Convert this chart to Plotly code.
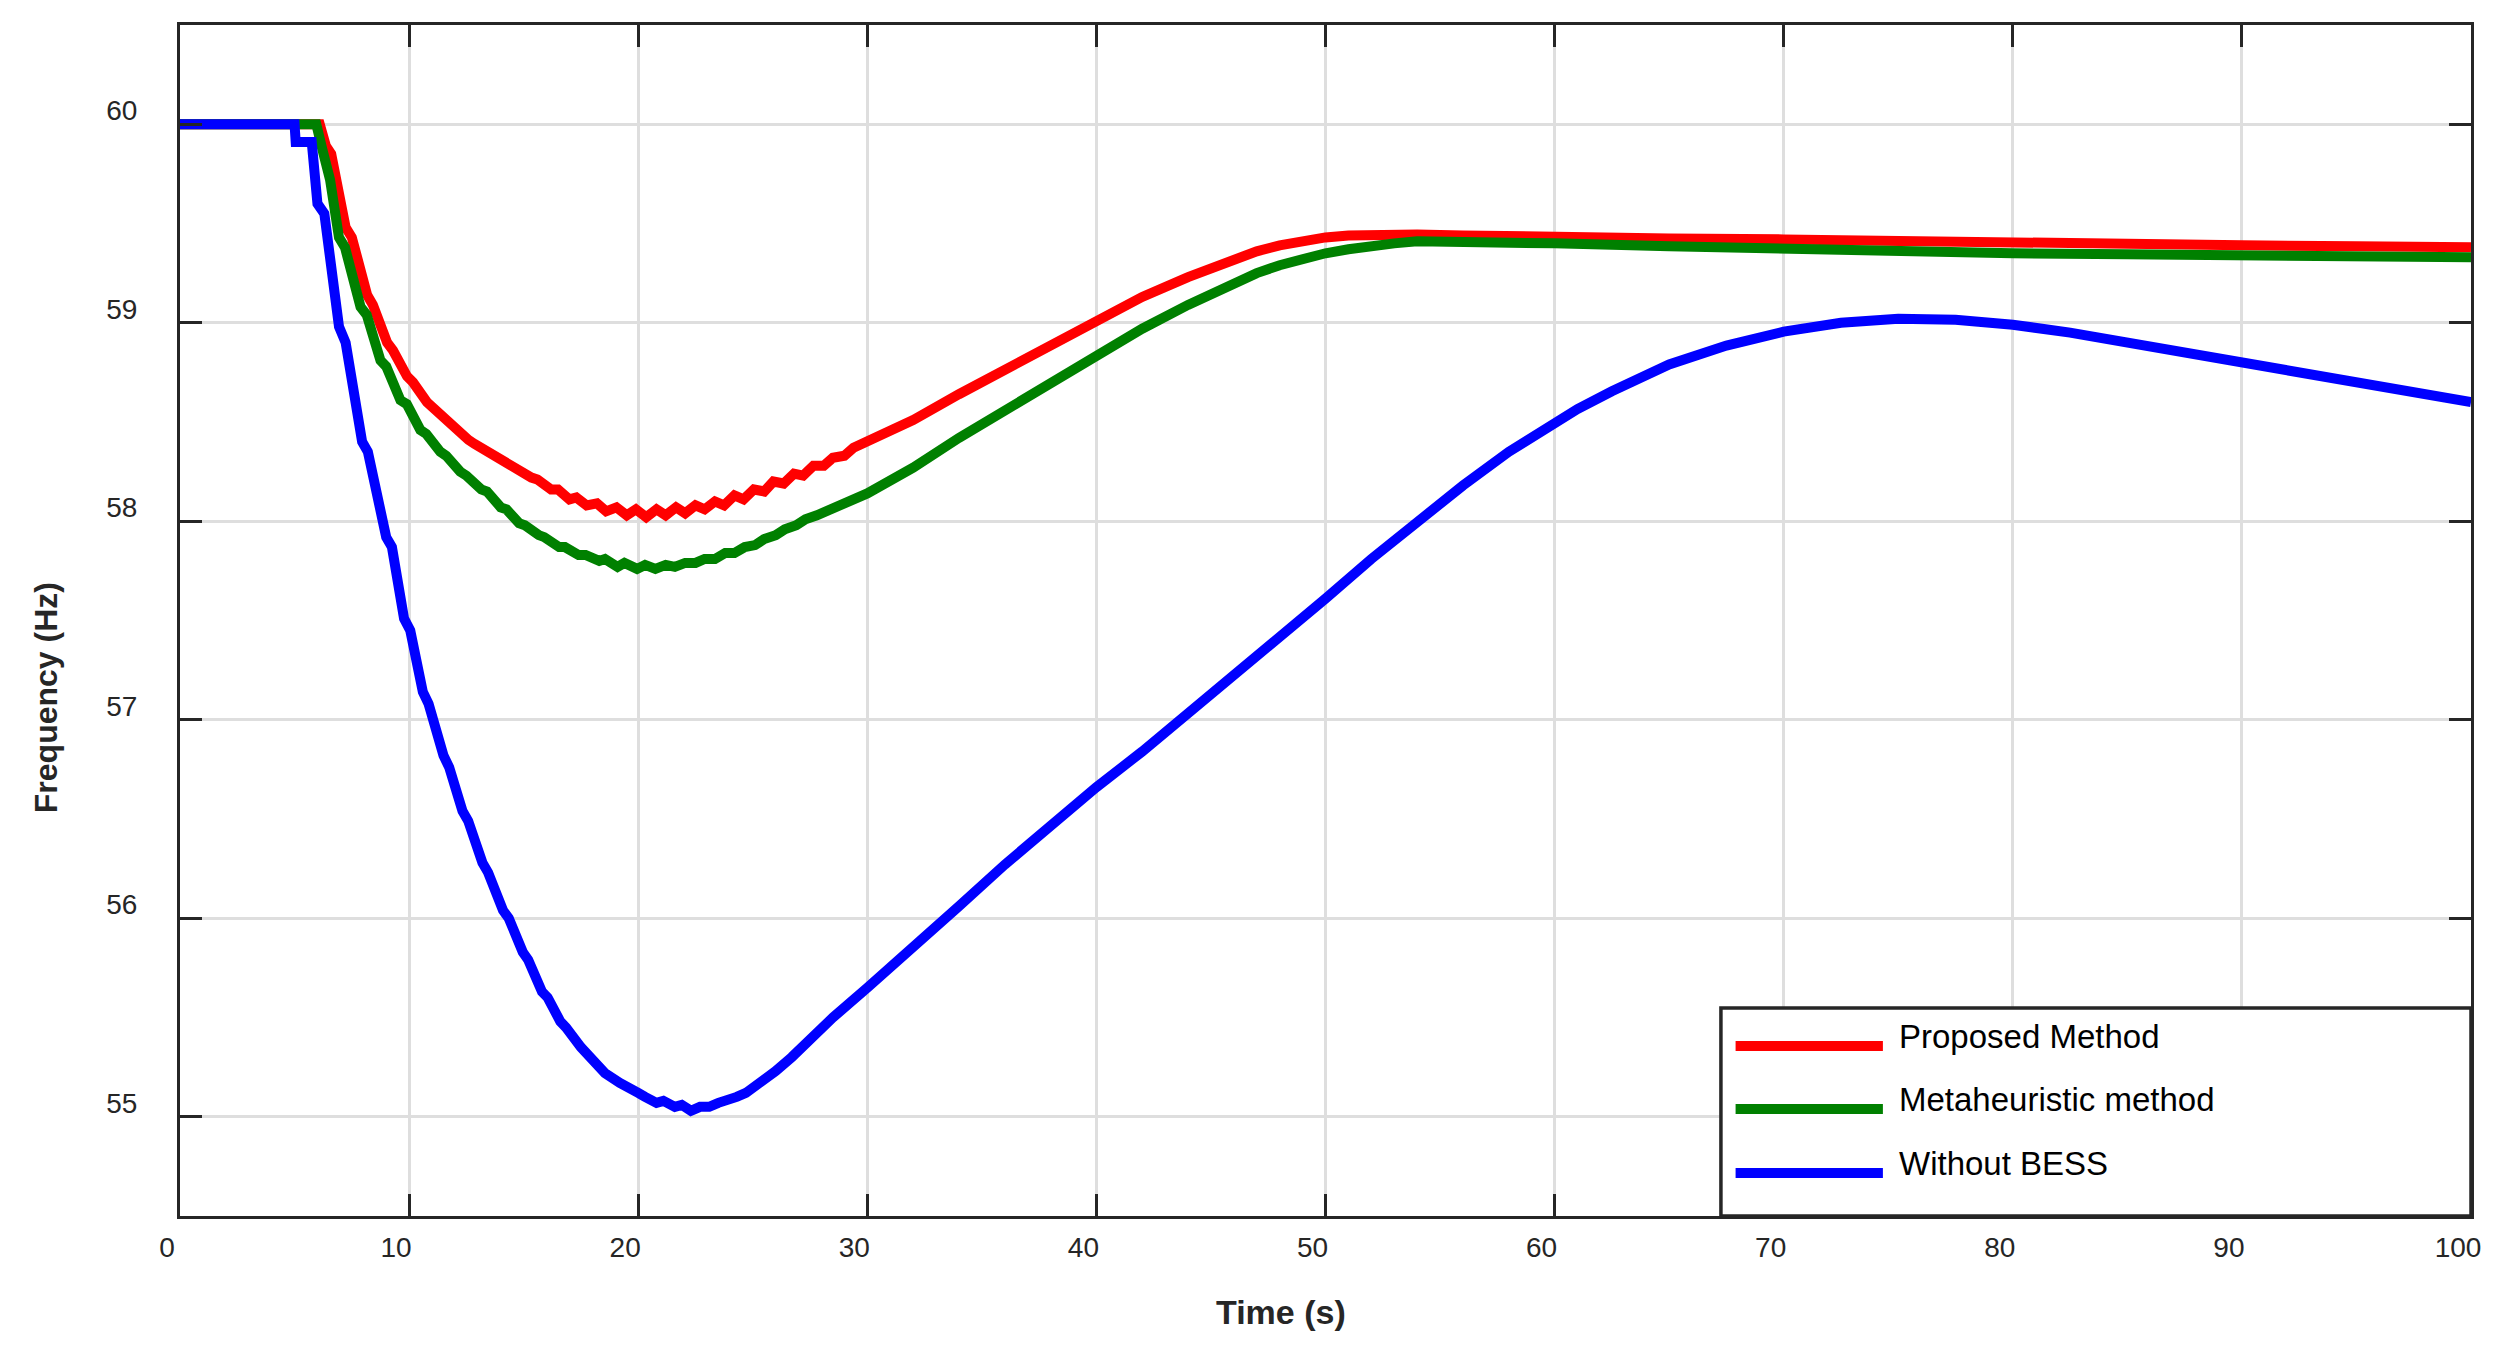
import plotly.graph_objects as go

### 데이터
series_names = ["Proposed Method", "Metaheuristic method", "Without BESS"]
series_colors = ["#FF0000", "#008000", "#0000FF"]

t_proposed = [0, 6.1, 6.37, 6.6, 7.23, 7.5, 8.17, 8.42, 9.04, 9.3, 9.91, 10.17, 10.78, 11.05,
              11.72, 11.97, 12.59, 12.85, 13.53, 13.78, 14.47, 14.72, 15.34, 15.6, 16.2, 16.5,
              17.0, 17.3, 17.75, 18.2, 18.6, 19.05, 19.5, 19.9, 20.35, 20.8, 21.2, 21.65, 22.05,
              22.5, 22.9, 23.35, 23.75, 24.2, 24.6, 25.05, 25.5, 25.9, 26.35, 26.8, 27.2, 27.65,
              28.1, 28.5, 29.0, 29.4, 30, 32, 34, 36, 38, 40, 42, 44, 46, 47, 48, 49, 50, 51, 52,
              54, 56, 60, 65, 70, 75, 80, 85, 90, 95, 100]
f_proposed = [60, 60, 59.89, 59.85, 59.48, 59.43, 59.14, 59.09, 58.90, 58.86, 58.73, 58.70, 58.60, 58.57,
              58.50, 58.47, 58.41, 58.39, 58.34, 58.32, 58.27, 58.26, 58.22, 58.21, 58.16, 58.16,
              58.11, 58.12, 58.08, 58.09, 58.05, 58.07, 58.03, 58.06, 58.02, 58.06, 58.03, 58.07, 58.04,
              58.08, 58.06, 58.10, 58.08, 58.13, 58.11, 58.16, 58.15, 58.20, 58.19, 58.24, 58.23, 58.28,
              58.28, 58.32, 58.33, 58.37, 58.40, 58.51, 58.64, 58.76, 58.89, 59.01, 59.13, 59.23, 59.32,
              59.36, 59.39, 59.415, 59.43, 59.44, 59.445, 59.445, 59.44, 59.43, 59.425, 59.42, 59.41,
              59.40, 59.395, 59.39, 59.385, 59.38]

t_meta = [0, 5.95, 6.2, 6.55, 6.94, 7.2, 7.88, 8.15, 8.75, 9.0, 9.62, 9.9, 10.49, 10.75, 11.36,
          11.62, 12.23, 12.5, 13.15, 13.4, 14.0, 14.25, 14.8, 15.05, 15.66, 15.9, 16.55, 16.8,
          17.4, 17.7, 18.3, 18.55, 19.1, 19.4, 19.95, 20.3, 20.75, 21.2, 21.6, 22.05, 22.5, 22.9,
          23.35, 23.8, 24.2, 24.65, 25.1, 25.5, 26.0, 26.4, 26.9, 27.3, 27.8, 28.3, 29, 30, 32,
          34, 36, 38, 40, 42, 44, 46, 47, 48, 49, 50, 51, 52, 53, 54, 56, 58, 60, 65, 70, 75, 80,
          85, 90, 95, 100]
f_meta = [60, 60, 59.88, 59.72, 59.43, 59.38, 59.08, 59.04, 58.81, 58.78, 58.61, 58.59, 58.46, 58.44, 58.35,
          58.33, 58.25, 58.23, 58.16, 58.15, 58.07, 58.06, 57.99, 57.98, 57.93, 57.92, 57.87, 57.87,
          57.83, 57.83, 57.80, 57.81, 57.77, 57.79, 57.76, 57.78, 57.76, 57.78, 57.77, 57.79, 57.79, 57.81,
          57.81, 57.84, 57.84, 57.87, 57.88, 57.91, 57.93, 57.96, 57.98, 58.01, 58.03, 58.06, 58.09, 58.14, 58.27,
          58.42, 58.56, 58.70, 58.84, 58.97, 59.09, 59.20, 59.25, 59.29, 59.325, 59.35, 59.37, 59.39, 59.40,
          59.41, 59.41, 59.405, 59.40, 59.385, 59.37, 59.36, 59.35, 59.345, 59.34, 59.335, 59.33]

t_nobess = [0, 5.0, 5.05, 5.75, 6.0, 6.3, 6.94, 7.23, 7.95, 8.2, 9.0, 9.25, 9.78, 10.05, 10.6, 10.85,
            11.5, 11.75, 12.33, 12.58, 13.2, 13.45, 14.1, 14.35, 14.96, 15.2, 15.8, 16.05, 16.6, 16.85,
            17.5, 17.75, 18.3, 18.55, 19.2, 19.45, 20.0, 20.3, 20.8, 21.1, 21.6, 21.9, 22.3, 22.7, 23.1,
            23.5, 23.9, 24.3, 24.7, 25.1, 25.5, 26.0, 26.7, 27.5, 28.5, 30, 32, 34, 36, 38, 40, 42, 44,
            46, 48, 50, 52, 54, 56, 58, 60, 61, 62.5, 65, 67.5, 70, 72.5, 75, 77.5, 80, 82.5, 85, 87.5,
            90, 92.5, 95, 97.5, 100]
f_nobess = [60, 60, 59.91, 59.91, 59.60, 59.55, 58.98, 58.90, 58.40, 58.35, 57.92, 57.87, 57.51, 57.45, 57.14, 57.08,
            56.82, 56.76, 56.54, 56.49, 56.28, 56.23, 56.04, 56.00, 55.83, 55.79, 55.63, 55.60, 55.48, 55.45,
            55.35, 55.32, 55.25, 55.22, 55.17, 55.15, 55.12, 55.10, 55.07, 55.08, 55.05, 55.06, 55.03, 55.05, 55.05,
            55.07, 55.08, 55.10, 55.12, 55.15, 55.18, 55.23, 55.30, 55.39, 55.50, 55.65, 55.85, 56.06, 56.27, 56.47,
            56.66, 56.84, 57.03, 57.22, 57.41, 57.61, 57.81, 58.00, 58.18, 58.35, 58.50, 58.565, 58.655, 58.79,
            58.885, 58.955, 59.00, 59.02, 59.015, 58.99, 58.95, 58.90, 58.845, 58.79, 58.74, 58.69, 58.645, 58.60]

x_ticks = [0, 10, 20, 30, 40, 50, 60, 70, 80, 90, 100]
y_ticks = [55, 56, 57, 58, 59, 60]

AX = "#262626"
FONT = "Arial, Liberation Sans, sans-serif"

### 그래프 그리기
fig = go.Figure()
for name, color, t, f in zip(series_names, series_colors,
                             [t_proposed, t_meta, t_nobess],
                             [f_proposed, f_meta, f_nobess]):
    fig.add_trace(go.Scatter(x=t, y=f, name=name, mode="lines",
                             line=dict(color=color, width=10)))

axis_style = dict(showline=True, linecolor=AX, linewidth=3, mirror="ticks",
                  ticks="inside", ticklen=22, tickwidth=3, tickcolor=AX,
                  showgrid=True, gridcolor="#DEDEDE", gridwidth=2.5, zeroline=False,
                  tickfont=dict(family=FONT, size=28, color=AX))

fig.update_xaxes(range=[0, 100], tickvals=x_ticks, ticklabelshift=-13,
                 ticklabelstandoff=4, **axis_style)
fig.update_yaxes(range=[54.5, 60.5], tickvals=y_ticks, ticklabelshift=-14,
                 ticklabelstandoff=34, **axis_style)

### 축 제목
fig.add_annotation(text="<b>Time (s)</b>", x=0.4804, y=-0.0806, xref="paper", yref="paper",
                   xanchor="center", yanchor="middle",
                   showarrow=False, font=dict(family=FONT, size=34, color=AX))
fig.add_annotation(text="<b>Frequency (Hz)</b>", x=-0.0585, y=0.4356, xref="paper", yref="paper",
                   xanchor="center", yanchor="middle",
                   textangle=-90, showarrow=False, font=dict(family=FONT, size=32, color=AX))

### 범례 (박스 + 선 + 글자)
fig.add_shape(type="rect", xref="paper", yref="paper", x0=0.6726, x1=1.0, y0=0.0, y1=0.1746,
              line=dict(color=AX, width=3.5), fillcolor="white", layer="above")
legend_y = [0.1427, 0.0898, 0.0361]
for name, color, ly in zip(series_names, series_colors, legend_y):
    fig.add_shape(type="line", xref="paper", yref="paper", x0=0.6790, x1=0.7433, y0=ly, y1=ly,
                  line=dict(color=color, width=10), layer="above")
    fig.add_annotation(text=name, x=0.7493, y=ly + 0.0084, xref="paper", yref="paper",
                       xanchor="left", yanchor="middle", showarrow=False,
                       font=dict(family=FONT, size=33, color="black"))

# 페이지 body 여백(8px)을 빼고 크기 맞춤
fig.update_layout(width=2500, height=1353, showlegend=False,
                  margin=dict(l=172, r=37, t=17, b=145),
                  plot_bgcolor="white", paper_bgcolor="white")

fig.write_html("out.html")
